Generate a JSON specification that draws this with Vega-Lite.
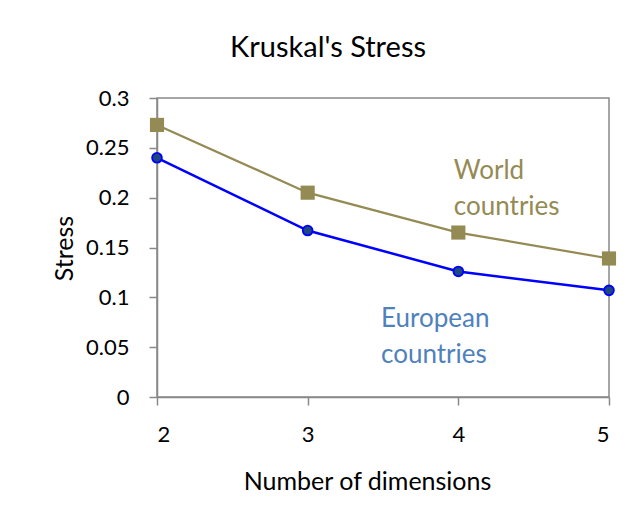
{
  "$schema": "https://vega.github.io/schema/vega-lite/v6.json",
  "width": 452,
  "height": 299,
  "autosize": "none",
  "padding": {"left": 157, "top": 98, "right": 23, "bottom": 120},
  "background": "white",
  "config": {
    "font": "Lato",
    "view": {"stroke": "#898989", "strokeWidth": 1.5},
    "axis": {"grid": false, "domainColor": "#898989", "domainWidth": 1.5, "tickColor": "#898989", "tickWidth": 1.5, "labelColor": "#000", "titleColor": "#000", "labelFont": "Lato", "titleFont": "Lato", "titleFontWeight": "normal"}
  },
  "title": {"text": "Kruskal's Stress", "font": "Lato", "fontSize": 29, "fontWeight": "normal", "color": "#000", "anchor": "middle", "frame": "group", "dx": -55, "baseline": "bottom", "offset": -5},
  "datasets": {
    "series": [
      {"dim": 2, "stress": 0.273, "group": "World"},
      {"dim": 3, "stress": 0.205, "group": "World"},
      {"dim": 4, "stress": 0.165, "group": "World"},
      {"dim": 5, "stress": 0.139, "group": "World"},
      {"dim": 2, "stress": 0.240, "group": "European"},
      {"dim": 3, "stress": 0.167, "group": "European"},
      {"dim": 4, "stress": 0.126, "group": "European"},
      {"dim": 5, "stress": 0.107, "group": "European"}
    ],
    "labels": [
      {"dim": 3.97, "stress": 0.2187, "text": ["World", "countries"], "group": "World"},
      {"dim": 3.487, "stress": 0.0702, "text": ["European", "countries"], "group": "European"}
    ]
  },
  "encoding": {
    "x": {"field": "dim", "type": "quantitative", "scale": {"domain": [2, 5], "nice": false, "zero": false},
      "axis": {"values": [2, 3, 4, 5], "format": "d", "title": "Number of dimensions", "labelFontSize": 22, "tickSize": 8, "labelPadding": 36, "labelBaseline": "alphabetic", "titleFontSize": 25, "titleX": 210, "titleY": 92, "titleBaseline": "alphabetic", "titleAlign": "center"}},
    "y": {"field": "stress", "type": "quantitative", "scale": {"domain": [0, 0.3], "nice": false},
      "axis": {"values": [0, 0.05, 0.1, 0.15, 0.2, 0.25, 0.3], "format": "~g", "title": "Stress", "labelFontSize": 22, "tickSize": 8, "labelPadding": 20, "titleFontSize": 25, "titleAngle": -90, "titleX": -93, "titleY": 150, "titleBaseline": "middle", "titleAlign": "center"}}
  },
  "layer": [
    {
      "data": {"name": "series"},
      "transform": [{"filter": "datum.group === 'World'"}],
      "mark": {"type": "line", "color": "#948A54", "strokeWidth": 2.2, "point": {"shape": "square", "size": 200, "filled": true, "color": "#948A54", "opacity": 1}}
    },
    {
      "data": {"name": "series"},
      "transform": [{"filter": "datum.group === 'European'"}],
      "mark": {"type": "line", "color": "#0000FF", "strokeWidth": 2.5, "point": {"shape": "circle", "size": 95, "filled": true, "fill": "#1F497D", "stroke": "#0000FF", "strokeWidth": 1.8, "opacity": 1}}
    },
    {
      "data": {"name": "labels"},
      "mark": {"type": "text", "align": "left", "baseline": "alphabetic", "fontSize": 26, "lineHeight": 36, "font": "Lato"},
      "encoding": {
        "text": {"field": "text"},
        "color": {"field": "group", "type": "nominal", "scale": {"domain": ["World", "European"], "range": ["#948A54", "#4F81BD"]}, "legend": null}
      }
    }
  ]
}
